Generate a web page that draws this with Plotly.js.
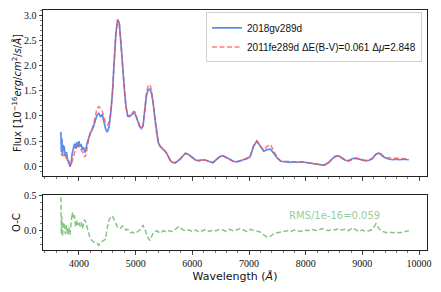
<!DOCTYPE html>
<html>
<head>
<meta charset="utf-8">
<script src="https://cdn.plot.ly/plotly-3.0.1.min.js"></script>
<style>html,body{margin:0;padding:0;background:#fff;}#chart{width:441px;height:292px;}</style>
</head>
<body>
<div id="chart"></div>
<script>
// Wavelength grid (Angstrom)
const wavelength = [
 3680,3690,3700,3710,3720,3740,3760,3780,3800,3820,3840,3860,3880,3900,3920,3940,3960,3980,4000,4020,4040,4060,4080,4100,4120,4140,4160,4180,4200,
 4230,4260,4290,4320,4350,4380,4410,4440,4470,4500,4530,4560,4590,4620,4650,4680,4710,4740,4770,4800,4830,4860,4890,4920,4950,4980,5010,5040,5070,5100,
 5130,5160,5190,5220,5250,5280,5310,5340,5370,5400,5430,5460,5490,5520,5550,5580,5610,5640,5670,5700,
 5760,5820,5880,5940,6000,6060,6120,6180,6240,6300,6360,6420,6480,6540,6600,6660,6720,6780,6840,6900,6960,7020,7080,7140,7200,7260,7320,7380,7440,7500,
 7560,7620,7680,7740,7800,7860,7920,7980,8040,8100,8160,8220,8280,8340,8400,8460,8520,8580,8640,8700,8760,8820,8880,8940,9000,9060,9120,9180,9240,9300,
 9360,9420,9480,9540,9600,9660,9720,9780,9820
];
// 2018gv at 289 d (flux, 1e-16 erg/cm2/s/A)
const flux2018gv = [
 0.68,0.28,0.55,0.22,0.42,0.38,0.20,0.28,0.12,0.10,-0.01,0.05,0.25,0.38,0.45,0.35,0.48,0.38,0.50,0.40,0.42,0.33,0.38,0.27,0.32,0.45,0.52,0.60,0.66,
 0.72,0.80,0.92,1.02,1.05,0.98,1.03,0.88,0.74,0.68,0.78,1.05,1.45,2.05,2.62,2.90,2.85,2.45,1.95,1.55,1.18,1.00,0.99,1.02,1.06,1.07,0.98,0.88,0.80,0.75,
 0.80,1.10,1.40,1.52,1.53,1.45,1.25,0.95,0.65,0.47,0.40,0.37,0.33,0.30,0.25,0.18,0.12,0.08,0.07,0.07,
 0.12,0.20,0.26,0.23,0.17,0.12,0.11,0.13,0.12,0.09,0.07,0.13,0.19,0.21,0.18,0.14,0.10,0.09,0.11,0.13,0.15,0.19,0.40,0.50,0.40,0.30,0.33,0.34,0.25,0.16,
 0.10,0.09,0.09,0.08,0.09,0.08,0.09,0.08,0.07,0.05,0.04,0.04,0.03,0.03,0.07,0.14,0.20,0.21,0.17,0.12,0.11,0.15,0.16,0.14,0.12,0.11,0.12,0.16,0.24,0.26,
 0.20,0.16,0.14,0.13,0.14,0.13,0.14,0.14,0.13
];
// 2011fe at 289 d, scaled (dE(B-V)=0.061, dmu=2.848)
const flux2011fe = [
 0.22,0.23,0.24,0.22,0.20,0.25,0.18,0.15,0.10,0.06,0.03,0.02,0.10,0.22,0.30,0.34,0.37,0.40,0.39,0.36,0.32,0.28,0.24,0.18,0.22,0.36,0.48,0.58,0.66,
 0.74,0.86,1.00,1.15,1.19,1.15,1.10,0.98,0.86,0.82,0.88,1.08,1.45,2.05,2.62,2.92,2.86,2.45,1.95,1.55,1.18,1.00,1.00,1.03,1.08,1.09,1.00,0.89,0.80,0.76,
 0.80,1.12,1.45,1.60,1.62,1.52,1.28,0.96,0.66,0.48,0.40,0.37,0.33,0.30,0.25,0.18,0.12,0.08,0.07,0.07,
 0.11,0.19,0.26,0.23,0.18,0.12,0.12,0.13,0.12,0.09,0.07,0.12,0.19,0.21,0.18,0.14,0.10,0.09,0.10,0.13,0.16,0.19,0.40,0.50,0.40,0.32,0.40,0.43,0.30,0.17,
 0.10,0.10,0.09,0.09,0.09,0.08,0.09,0.08,0.07,0.05,0.04,0.04,0.03,0.03,0.07,0.13,0.19,0.20,0.16,0.12,0.11,0.14,0.16,0.15,0.12,0.12,0.12,0.15,0.24,0.28,
 0.21,0.17,0.16,0.16,0.16,0.16,0.16,0.15,0.15
];
// Observed minus comparison
const residual = [
 0.48,-0.05,0.20,-0.08,0.12,0.10,-0.05,0.08,-0.06,0.05,-0.06,0.10,0.26,0.18,0.22,0.05,0.15,0.08,0.13,0.06,0.12,0.03,0.10,0.16,0.12,0.06,-0.02,-0.08,-0.12,
 -0.14,-0.16,-0.18,-0.18,-0.21,-0.17,-0.15,-0.14,-0.12,0.05,0.15,0.20,0.21,0.16,0.10,0.05,0.03,0.04,0.07,0.03,0.01,0.02,-0.01,-0.03,-0.02,-0.04,-0.03,-0.01,0.00,0.03,
 0.08,0.02,-0.06,-0.10,-0.14,-0.07,-0.03,-0.01,0.00,-0.02,-0.01,-0.02,0.00,-0.01,-0.02,0.00,-0.01,-0.01,0.00,0.02,
 0.06,0.02,0.00,0.01,-0.01,0.01,-0.02,0.00,0.02,-0.01,0.01,0.00,0.02,0.01,-0.01,0.02,0.00,0.01,0.03,0.01,-0.01,0.02,0.01,0.00,-0.02,-0.06,-0.09,-0.08,-0.04,-0.03,
 -0.02,-0.01,0.00,-0.01,0.01,0.00,-0.01,0.01,0.00,0.02,0.01,0.00,0.03,0.01,0.00,0.02,0.01,0.03,0.01,0.02,0.00,0.04,0.01,-0.01,0.01,-0.01,0.00,0.02,0.10,0.02,
 -0.01,-0.03,-0.02,-0.03,-0.02,-0.03,-0.02,-0.01,0.00
];
const label2018 = '2018gv289d';
const label2011 = '2011fe289d ΔE(B-V)=0.061 Δ<i>μ</i>=2.848';
const rmsText = 'RMS/1e-16=0.059';
const rmsPos = [8500, 0.22];
const topYTicks = [0.0, 0.5, 1.0, 1.5, 2.0, 2.5, 3.0];
const botYTicks = [0.0, 0.5];
const xTicks = [4000, 5000, 6000, 7000, 8000, 9000, 10000];

const serif = 'Liberation Serif, DejaVu Serif, serif';
const sans = 'DejaVu Sans, sans-serif';
const legendSans = 'Liberation Sans, DejaVu Sans, sans-serif';

const traces = [
  {x: wavelength, y: flux2018gv, type: 'scatter', mode: 'lines', name: label2018,
   line: {color: '#5b8def', width: 1.7}, xaxis: 'x', yaxis: 'y'},
  {x: wavelength, y: flux2011fe, type: 'scatter', mode: 'lines', name: label2011,
   line: {color: 'rgba(255,70,70,0.7)', width: 1.5, dash: '5px,2.5px'}, xaxis: 'x', yaxis: 'y'},
  {x: wavelength, y: residual, type: 'scatter', mode: 'lines', showlegend: false,
   line: {color: 'rgba(100,185,100,0.8)', width: 1.5, dash: '5px,2.5px'}, xaxis: 'x2', yaxis: 'y2'}
];

const axisCommon = {
  showline: true, linecolor: '#222', linewidth: 1, mirror: true,
  showgrid: false, zeroline: false,
  ticks: 'outside', ticklen: 3.5, tickwidth: 0.8, tickcolor: '#222',
  tickfont: {family: serif, size: 10, color: '#111'},
  minor: {ticks: 'outside', ticklen: 2, tickwidth: 0.6, tickcolor: '#222'}
};

const layout = {
  width: 441, height: 292,
  margin: {l: 43, r: 14, t: 10, b: 42},
  paper_bgcolor: '#fff', plot_bgcolor: '#fff',
  showlegend: true,
  legend: {x: 0.987, y: 0.99, xanchor: 'right', yanchor: 'top',
    bgcolor: 'rgba(255,255,255,0.9)', bordercolor: '#d0d0d0', borderwidth: 1,
    font: {family: legendSans, size: 10, color: '#111'}, tracegroupgap: 0, itemwidth: 30},
  xaxis: Object.assign({}, axisCommon, {domain: [0, 1], range: [3365, 10141], anchor: 'y',
    tickvals: xTicks, showticklabels: false, matches: 'x2',
    minor: Object.assign({}, axisCommon.minor, {dtick: 200})}),
  yaxis: Object.assign({}, axisCommon, {domain: [0.3083, 1], range: [-0.193, 3.105], anchor: 'x',
    tickvals: topYTicks, tickformat: '.1f',
    minor: Object.assign({}, axisCommon.minor, {dtick: 0.1}),
    title: {text: 'Flux [10<sup>−16</sup><i>erg</i>/<i>cm</i><sup>2</sup>/<i>s</i>/<i>Å</i>]',
      font: {family: sans, size: 10, color: '#111'}, standoff: 0}}),
  xaxis2: Object.assign({}, axisCommon, {domain: [0, 1], range: [3365, 10141], anchor: 'y2',
    tickvals: xTicks, tickformat: 'd',
    minor: Object.assign({}, axisCommon.minor, {dtick: 200}),
    title: {text: 'Wavelength (<i>Å</i>)', font: {family: sans, size: 11, color: '#111'}, standoff: 4}}),
  yaxis2: Object.assign({}, axisCommon, {domain: [0, 0.229], range: [-0.276, 0.51], anchor: 'x2',
    tickvals: botYTicks, tickformat: '.1f',
    minor: Object.assign({}, axisCommon.minor, {dtick: 0.1}),
    title: {text: 'O-C', font: {family: sans, size: 10, color: '#111'}, standoff: 1}}),
  annotations: [{x: rmsPos[0], y: rmsPos[1], xref: 'x2', yref: 'y2', text: rmsText, showarrow: false,
    font: {family: sans, size: 10, color: 'rgba(110,190,110,0.75)'}}]
};

Plotly.newPlot('chart', traces, layout, {displayModeBar: false, staticPlot: true});
</script>
</body>
</html>
